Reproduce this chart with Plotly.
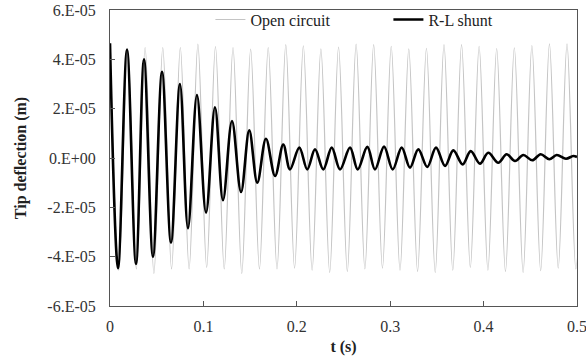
import plotly.graph_objects as go

# ---- data (values in units of 1e-5 m, times in s) ----
gray_peak_t = [0, 0.0188, 0.0376, 0.0565, 0.0753, 0.0941, 0.1129, 0.1317, 0.1506,
               0.1694, 0.1882, 0.2070, 0.2258, 0.2447, 0.2635, 0.2823, 0.3011, 0.3199,
               0.3388, 0.3576, 0.3764, 0.3952, 0.4140, 0.4329, 0.4517, 0.4705, 0.4893, 0.5081]
gray_peak_v = [4.60, 4.45, 4.48, 4.48, 4.48, 4.62, 4.52, 4.48, 4.41, 4.48, 4.60, 4.55,
               4.42, 4.50, 4.62, 4.60, 4.53, 4.42, 4.45, 4.60, 4.60, 4.53, 4.44, 4.47,
               4.56, 4.63, 4.63, 4.50]
gray_trough_t = [0.0094, 0.0282, 0.0470, 0.0659, 0.0847, 0.1035, 0.1223, 0.1411, 0.1600,
                 0.1788, 0.1976, 0.2164, 0.2352, 0.2541, 0.2729, 0.2917, 0.3105, 0.3293,
                 0.3482, 0.3670, 0.3858, 0.4046, 0.4234, 0.4423, 0.4611, 0.4799, 0.4987]
gray_trough_v = [-4.55, -4.50, -4.68, -4.50, -4.50, -4.44, -4.50, -4.68, -4.50, -4.50,
                 -4.47, -4.55, -4.64, -4.60, -4.50, -4.47, -4.55, -4.60, -4.64, -4.55,
                 -4.44, -4.55, -4.60, -4.64, -4.57, -4.47, -4.50]

black_peak_t = [0, 0.0182, 0.0364, 0.0557, 0.0749, 0.0931, 0.1124, 0.1306, 0.1491,
                0.1670, 0.1855, 0.2027, 0.2195, 0.2374, 0.2570, 0.2755, 0.2934, 0.3123,
                0.3301, 0.3490, 0.3676, 0.3862, 0.4050, 0.4247, 0.4425, 0.4611, 0.4783, 0.4960]
black_peak_v = [4.65, 4.40, 4.00, 3.49, 3.00, 2.55, 2.06, 1.50, 1.12, 0.78, 0.55, 0.42,
                0.35, 0.42, 0.42, 0.45, 0.46, 0.42, 0.35, 0.42, 0.31, 0.28, 0.21, 0.15,
                0.12, 0.15, 0.12, 0.08]
black_trough_t = [0.0086, 0.0278, 0.0460, 0.0653, 0.0835, 0.1028, 0.1210, 0.1403, 0.1577,
                  0.1767, 0.1927, 0.2112, 0.2284, 0.2463, 0.2652, 0.2837, 0.3027, 0.3212,
                  0.3397, 0.3587, 0.3776, 0.3961, 0.4157, 0.4336, 0.4521, 0.4703, 0.4882]
black_trough_v = [-4.47, -4.30, -4.00, -3.43, -2.85, -2.21, -1.71, -1.38, -1.00, -0.73,
                  -0.46, -0.46, -0.46, -0.46, -0.46, -0.46, -0.46, -0.39, -0.36, -0.32,
                  -0.26, -0.23, -0.19, -0.12, -0.09, -0.05, -0.03]
black_end_t = [0.5]
black_end_v = [0.04]

y_tickvals = [-6e-5, -4e-5, -2e-5, 0, 2e-5, 4e-5, 6e-5]
y_ticktext = ["-6.E-05", "-4.E-05", "-2.E-05", "0.E+00", "2.E-05", "4.E-05", "6.E-05"]
x_tickvals = [0, 0.1, 0.2, 0.3, 0.4, 0.5]
x_ticktext = ["0", "0.1", "0.2", "0.3", "0.4", "0.5"]

SCALE = 1e-5


def interleave(pt, pv, tt, tv, et=(), ev=()):
    pts = [(t, v) for t, v in zip(pt, pv)] + [(t, v) for t, v in zip(tt, tv)] + list(zip(et, ev))
    pts.sort(key=lambda p: p[0])
    return [p[0] for p in pts], [p[1] * SCALE for p in pts]


gx, gy = interleave(gray_peak_t, gray_peak_v, gray_trough_t, gray_trough_v)
bx, by = interleave(black_peak_t, black_peak_v, black_trough_t, black_trough_v, black_end_t, black_end_v)

FONT = "Liberation Serif"

fig = go.Figure()
fig.add_trace(go.Scatter(x=gx, y=gy, mode="lines", name="Open circuit",
                         line=dict(color="#c4c4c4", width=1.2, shape="spline", smoothing=1.0)))
fig.add_trace(go.Scatter(x=bx, y=by, mode="lines", name="R-L shunt",
                         line=dict(color="#000000", width=2.6, shape="spline", smoothing=1.0)))

fig.update_layout(
    width=586, height=361,
    margin=dict(l=110, r=9, t=10, b=55, autoexpand=False),
    paper_bgcolor="white", plot_bgcolor="white",
    font=dict(family=FONT, size=16, color="#333333"),
    showlegend=True,
    legend=dict(orientation="h", x=0.215, xanchor="left", y=1.025, yanchor="top",
                bgcolor="rgba(0,0,0,0)", font=dict(family=FONT, size=16, color="#222222"),
                entrywidth=133, entrywidthmode="pixels"),
)
fig.update_xaxes(range=[0, 0.5], tickvals=x_tickvals, ticktext=x_ticktext, automargin=False,
                 ticklabeloverflow="allow",
                 showgrid=False, zeroline=False, showline=True, linecolor="#555555",
                 linewidth=1, mirror=True, ticks="inside", ticklen=5, tickcolor="#555555",
                 ticklabelstandoff=6,
                 title=dict(text="<b>t (s)</b>", font=dict(family=FONT, size=16, color="#222222"),
                            standoff=6))
fig.update_yaxes(range=[-6e-5, 6e-5], tickvals=y_tickvals, ticktext=y_ticktext, automargin=False,
                 ticklabeloverflow="allow",
                 showgrid=False, zeroline=False, showline=True, linecolor="#555555",
                 linewidth=1, mirror=True, ticks="inside", ticklen=5, tickcolor="#555555",
                 ticklabelstandoff=10,
                 title=dict(text="<b>Tip deflection (m)</b>",
                            font=dict(family=FONT, size=16, color="#222222"), standoff=16))

fig.write_html("out.html", config={"displayModeBar": False},
               post_script="document.body.style.margin='0';")
